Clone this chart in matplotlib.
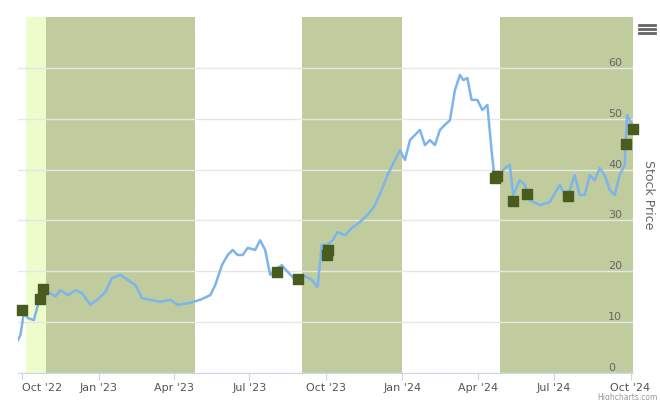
import datetime as dt
import matplotlib
matplotlib.use("Agg")
import matplotlib.pyplot as plt

BASE = dt.date(2022, 10, 1)

# price line: days after 2022-10-01, price
line_days = [-5, -2, 2, 7, 14, 19, 24, 31, 40, 46, 55, 64, 72, 82, 90, 100, 108, 118, 127, 136,
             144, 154, 166, 178, 187, 202, 214, 226, 232, 240, 247, 253, 259, 265, 271, 280, 286,
             292, 298, 304, 312, 319, 328, 337, 348, 355, 360, 367, 373, 379, 388, 396, 406, 415,
             424, 432, 439, 448, 454, 460, 466, 472, 478, 484, 490, 496, 502, 508, 514, 520, 526,
             530, 535, 540, 547, 553, 559, 564, 568, 574, 580, 586, 590, 598, 604, 610, 622, 634,
             646, 652, 658, 664, 670, 676, 682, 688, 694, 700, 706, 712, 718, 724, 727, 733]
line_vals = [6.5, 7.5, 11.8, 10.8, 10.4, 13.4, 15.3, 15.9, 15.1, 16.3, 15.3, 16.3, 15.7, 13.4, 14.4,
             15.9, 18.7, 19.3, 18.3, 17.3, 14.7, 14.4, 14.0, 14.4, 13.4, 13.8, 14.4, 15.3, 17.3, 21.2,
             23.2, 24.2, 23.2, 23.2, 24.6, 24.2, 26.1, 24.2, 19.3, 20.3, 21.2, 19.9, 18.3, 19.3, 18.3,
             16.9, 25.2, 25.2, 26.1, 27.7, 27.1, 28.5, 29.7, 31.1, 33.0, 36.0, 38.9, 41.9, 43.8, 41.9,
             45.8, 46.8, 47.8, 44.8, 45.8, 44.8, 47.8, 48.8, 49.7, 55.6, 58.6, 57.6, 58.0, 53.7, 53.7,
             51.7, 52.7, 43.8, 37.9, 38.9, 40.3, 40.9, 35.0, 37.9, 37.0, 34.0, 33.0, 33.6, 37.0, 35.0,
             36.0, 38.9, 35.0, 35.0, 38.9, 37.9, 40.3, 38.9, 36.0, 35.0, 38.9, 40.9, 50.7, 48.8]

# trade markers
mark_days = [0, 22, 25, 306, 332, 366, 368, 568, 571, 590, 607, 656, 725, 734]
mark_vals = [12.4, 14.5, 16.5, 19.9, 18.5, 23.2, 24.2, 38.3, 38.7, 33.8, 35.2, 34.8, 45.0, 48.0]

# shaded bands (start day, end day)
light_band = (5, 29)
olive_bands = [(29, 208), (336, 456), (574, 734)]

tick_days = [0, 92, 182, 273, 365, 457, 548, 639, 731]
tick_labels = ["Oct '22", "Jan '23", "Apr '23", "Jul '23", "Oct '23", "Jan '24", "Apr '24", "Jul '24", "Oct '24"]


def d(n):
    return BASE + dt.timedelta(days=n)


fig = plt.figure(figsize=(6.6, 4), dpi=100)
ax = fig.add_axes([18 / 660, 27 / 400, 615 / 660, 356 / 400])

ax.axvspan(d(light_band[0]), d(light_band[1]), color="#eefccc", lw=0, zorder=0)
for s, e in olive_bands:
    ax.axvspan(d(s), d(e), color="#c0cc9e", lw=0, zorder=0)

ax.plot([d(x) for x in line_days], line_vals, color="#7cb5ec", lw=1.8, zorder=3)
ax.scatter([d(x) for x in mark_days], mark_vals, marker="s", s=55, color="#4a5b1e", zorder=4, clip_on=False)

ax.set_xlim(d(-5), d(734))
ax.set_ylim(0, 70)
ax.set_xticks([d(x) for x in tick_days])
ax.set_xticklabels(tick_labels, fontsize=8, color="#555555")
ax.get_xticklabels()[0].set_horizontalalignment("left")
ax.yaxis.tick_right()
ax.set_yticks(range(0, 70, 10))
ax.tick_params(axis="y", direction="in", length=0, pad=-18, labelsize=8, labelcolor="#666666")
for lab in ax.get_yticklabels():
    lab.set_verticalalignment("bottom")
ax.tick_params(axis="x", length=5, pad=2, color="#ccd6eb")
ax.grid(axis="y", color="#e6e6e6", lw=1)
ax.yaxis.set_label_position("right")
ax.set_ylabel("Stock Price", fontsize=9, color="#666666", rotation=270, va="center")
ax.yaxis.set_label_coords(1.025, 0.5)
for s in ["top", "left", "right"]:
    ax.spines[s].set_visible(False)
ax.spines["bottom"].set_color("#ccd6eb")

for i in range(3):
    fig.add_artist(plt.Line2D([639 / 660, 655 / 660], [(400 - 25 - 4 * i) / 400] * 2, color="#666666", lw=2))
fig.text(658 / 660, -0.006, "Highcharts.com", fontsize=5.5, color="#999999", ha="right", va="bottom")

fig.savefig("out.png")
